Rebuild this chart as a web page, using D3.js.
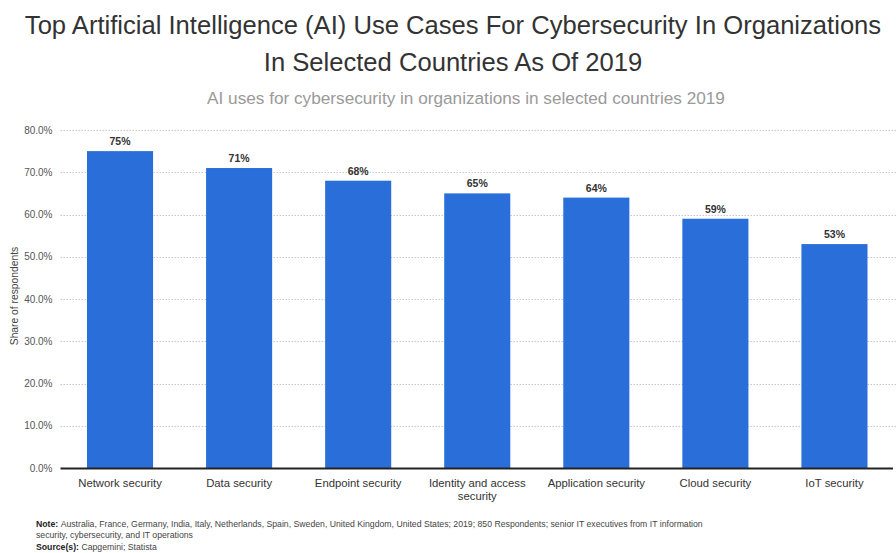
<!DOCTYPE html>
<html>
<head>
<meta charset="utf-8">
<script src="https://cdn.jsdelivr.net/npm/d3@7"></script>
<style>
  html, body { margin: 0; padding: 0; background: #fff; }
  svg { display: block; font-family: "Liberation Sans", Arial, sans-serif; }
</style>
</head>
<body>
<svg id="chart" width="896" height="553"></svg>
<script>
// Use cases and the share of respondents (%) naming each one
const categories = [
  "Network security",
  "Data security",
  "Endpoint security",
  "Identity and access security",
  "Application security",
  "Cloud security",
  "IoT security"
];
const shares = [75, 71, 68, 65, 64, 59, 53];
const yTicks = [0, 10, 20, 30, 40, 50, 60, 70, 80];

const titleLines = [
  "Top Artificial Intelligence (AI) Use Cases For Cybersecurity In Organizations",
  "In Selected Countries As Of 2019"
];
const subtitle = "AI uses for cybersecurity in organizations in selected countries 2019";

const svg = d3.select("#chart");
const W = 896;

const margin = { left: 60.5, right: 2, top: 130, bottom: 468 };

const x = d3.scaleBand()
  .domain(categories)
  .range([margin.left, W - margin.right])
  .paddingInner(0.445)
  .paddingOuter(0.2225);

const y = d3.scaleLinear()
  .domain([0, 80])
  .range([margin.bottom, margin.top]);

// Title and subtitle
svg.selectAll("text.title")
  .data(titleLines)
  .join("text")
  .attr("class", "title")
  .attr("x", 453)
  .attr("y", (d, i) => 34 + i * 37)
  .attr("text-anchor", "middle")
  .attr("font-size", 25.6)
  .attr("fill", "#333")
  .text(d => d);

svg.append("text")
  .attr("x", 466)
  .attr("y", 104)
  .attr("text-anchor", "middle")
  .attr("font-size", 17.2)
  .attr("fill", "#9a9a9a")
  .text(subtitle);

// Dotted horizontal grid
svg.append("g")
  .selectAll("line")
  .data(yTicks.filter(t => t > 0))
  .join("line")
  .attr("x1", margin.left)
  .attr("x2", W)
  .attr("y1", d => Math.round(y(d)) + 0.5)
  .attr("y2", d => Math.round(y(d)) + 0.5)
  .attr("stroke", "#c8c8c8")
  .attr("stroke-width", 1)
  .attr("stroke-dasharray", "1.5,1.5");

// Y axis labels
const yAxis = d3.axisLeft(y)
  .tickValues(yTicks)
  .tickFormat(d => d.toFixed(1) + "%")
  .tickSize(0)
  .tickPadding(8);

const gy = svg.append("g")
  .attr("transform", `translate(${margin.left},0)`)
  .call(yAxis);
gy.select(".domain").remove();
gy.selectAll("text")
  .attr("font-size", 10)
  .attr("fill", "#555")
  .attr("font-family", "Liberation Sans, Arial, sans-serif");

svg.append("text")
  .attr("transform", `translate(18,296) rotate(-90)`)
  .attr("text-anchor", "middle")
  .attr("font-size", 10.3)
  .attr("fill", "#444")
  .text("Share of respondents");

// Bars
svg.append("g")
  .selectAll("rect")
  .data(categories)
  .join("rect")
  .attr("x", d => x(d))
  .attr("width", x.bandwidth())
  .attr("y", (d, i) => y(shares[i]))
  .attr("height", (d, i) => y(0) - y(shares[i]))
  .attr("fill", "#2a6fd9");

// Value labels
svg.append("g")
  .selectAll("text")
  .data(categories)
  .join("text")
  .attr("x", d => x(d) + x.bandwidth() / 2)
  .attr("y", (d, i) => y(shares[i]) - 6)
  .attr("text-anchor", "middle")
  .attr("font-size", 10.5)
  .attr("font-weight", "bold")
  .attr("fill", "#333")
  .text((d, i) => shares[i] + "%");

// Baseline
svg.append("line")
  .attr("x1", margin.left)
  .attr("x2", W - 3)
  .attr("y1", y(0) + 0.5)
  .attr("y2", y(0) + 0.5)
  .attr("stroke", "#222")
  .attr("stroke-width", 1.8);

// Category labels, wrapped for the long one
const xAxis = d3.axisBottom(x).tickSize(0).tickPadding(11);
const gx = svg.append("g")
  .attr("transform", `translate(0,${y(0)})`)
  .call(xAxis);
gx.select(".domain").remove();
gx.selectAll("text")
  .attr("font-size", 11.3)
  .attr("fill", "#333")
  .attr("font-family", "Liberation Sans, Arial, sans-serif")
  .each(function (d) {
    if (d === "Identity and access security") {
      const t = d3.select(this).text(null);
      t.append("tspan").attr("x", 0).attr("dy", "0.71em").text("Identity and access");
      t.append("tspan").attr("x", 0).attr("dy", "1.15em").text("security");
    }
  });

// Footnotes
const notes = svg.append("g").attr("font-size", 8.7).attr("fill", "#444");
const n1 = notes.append("text").attr("x", 36).attr("y", 527);
n1.append("tspan").attr("font-weight", "bold").attr("fill", "#222").text("Note: ");
n1.append("tspan").text(" Australia, France, Germany, India, Italy, Netherlands, Spain, Sweden, United Kingdom, United States; 2019; 850 Respondents; senior IT executives from IT information");
notes.append("text").attr("x", 36).attr("y", 538)
  .text("security, cybersecurity, and IT operations");
const n3 = notes.append("text").attr("x", 36).attr("y", 550);
n3.append("tspan").attr("font-weight", "bold").attr("fill", "#222").text("Source(s): ");
n3.append("tspan").text("Capgemini; Statista");
</script>
</body>
</html>
